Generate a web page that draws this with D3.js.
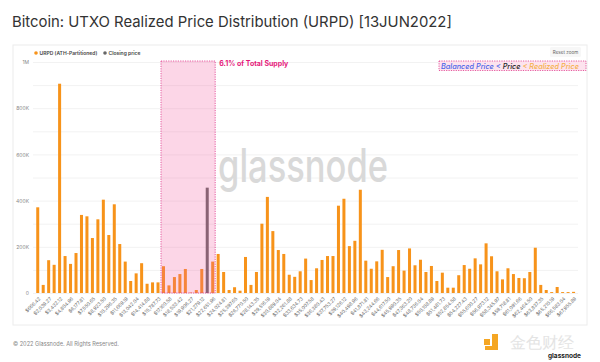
<!DOCTYPE html>
<html>
<head>
<meta charset="utf-8">
<script src="https://cdn.jsdelivr.net/npm/d3@7"></script>
<style>
  body { margin: 0; background: #fff; }
  text { font-family: Inter, "Liberation Sans", sans-serif; }
</style>
</head>
<body>
<div id="chart"></div>
<script>
// URPD values per price bucket (BTC)
var urpd = [371000, 35000, 142000, 122000, 906000, 160000, 126000, 173000, 338000, 332000,
    238000, 319000, 404000, 251000, 384000, 212000, 136000, 52000, 85000, 129000,
    40000, 46000, 46000, 116000, 33000, 69000, 82000, 104000, 2000, 13000,
    104000, 456000, 136000, 169000, 91000, 13000, 25000, 10000, 156000, 35000,
    91000, 300000, 416000, 268000, 186000, 169000, 79000, 70000, 94000, 149000,
    56000, 107000, 143000, 160000, 160000, 378000, 408000, 203000, 226000, 447000,
    140000, 105000, 137000, 187000, 69000, 116000, 186000, 97000, 193000, 120000,
    144000, 91000, 117000, 52000, 88000, 23000, 23000, 77000, 121000, 105000,
    150000, 124000, 215000, 159000, 94000, 59000, 107000, 82000, 65000, 64000,
    91000, 196000, 35000, 13000, 4000, 26000, 4000, 4000, 5000];

// bucket that holds the closing price
var closingIndex = 31;
// buckets in the highlighted band
var bandStart = 23, bandEnd = 32;

// every other bucket gets a label
var tickLabels = ["$666.42", "$2,039.27", "$3,432.12", "$4,804.96", "$6,177.81", "$7,550.65",
    "$8,923.50", "$10,296.35", "$11,669.19", "$13,042.04", "$14,414.88", "$15,787.73",
    "$17,160.58", "$18,533.42", "$19,906.27", "$21,279.12", "$22,651.96", "$24,024.81",
    "$25,397.65", "$26,770.50", "$28,143.35", "$29,516.19", "$30,889.04", "$32,261.88",
    "$33,634.73", "$35,007.58", "$36,380.43", "$37,753.27", "$39,126.12", "$40,498.96",
    "$41,871.81", "$43,244.66", "$44,617.50", "$45,990.35", "$47,363.20", "$48,736.04",
    "$50,108.89", "$51,481.73", "$52,854.58", "$54,227.43", "$55,600.27", "$56,973.12",
    "$58,345.97", "$59,718.81", "$61,091.66", "$62,464.50", "$63,837.35", "$65,210.19",
    "$66,583.04", "$67,955.89"];

var yTicks = [0, 200000, 400000, 600000, 800000, 1000000];

var W = 600, H = 362;

var svg = d3.select("#chart")
    .append("svg")
    .attr("width", W)
    .attr("height", H);

svg.append("rect").attr("width", W).attr("height", H).attr("fill", "#fff");

// title, sized to span the same width as the original
var title = svg.append("text")
    .attr("x", 12).attr("y", 27)
    .attr("font-size", 16.5)
    .attr("font-family", "Roboto, sans-serif")
    .attr("fill", "#333")
    .text("Bitcoin: UTXO Realized Price Distribution (URPD) [13JUN2022]");
var tw = title.node().getComputedTextLength();
title.attr("font-size", 16.5 * 440 / tw);

// panel
svg.append("rect")
    .attr("x", 13).attr("y", 45)
    .attr("width", 574).attr("height", 280)
    .attr("fill", "#fff")
    .attr("stroke", "#ececec");

// legend
var legend = [{name: "URPD (ATH-Partitioned)", color: "#f7931a", x: 36},
              {name: "Closing price", color: "#666", x: 105}];
legend.forEach(function(d) {
    svg.append("circle").attr("cx", d.x).attr("cy", 53).attr("r", 1.8).attr("fill", d.color);
    svg.append("text").attr("x", d.x + 3.5).attr("y", 55)
        .attr("font-size", 5).attr("font-weight", 600).attr("fill", "#444")
        .text(d.name);
});

// reset zoom button
svg.append("rect").attr("x", 550).attr("y", 47).attr("width", 31).attr("height", 10)
    .attr("fill", "#f7f7f7").attr("rx", 1.5);
svg.append("text").attr("x", 565.5).attr("y", 53.8).attr("text-anchor", "middle")
    .attr("font-size", 4.6).attr("fill", "#666").text("Reset zoom");

var x = d3.scaleBand()
    .domain(d3.range(urpd.length))
    .range([35, 576.3])
    .paddingInner(0.45)
    .paddingOuter(0.225);

var y = d3.scaleLinear()
    .domain([0, 1000000])
    .range([293, 62]);

// grid every 100K
svg.append("g")
    .attr("transform", "translate(33,0)")
    .call(d3.axisLeft(y).ticks(10).tickSize(-545).tickFormat(""))
    .call(function(g) {
        g.select(".domain").remove();
        g.selectAll("line").attr("stroke", "#f2f2f2");
    });

// y labels
svg.append("g")
    .attr("transform", "translate(32,0)")
    .call(d3.axisLeft(y).tickValues(yTicks).tickSize(0)
        .tickFormat(function(d) { return d === 0 ? "0" : d >= 1e6 ? (d / 1e6) + "M" : (d / 1e3) + "K"; }))
    .call(function(g) {
        g.select(".domain").remove();
        g.selectAll("text").attr("font-size", 5).attr("fill", "#888")
            .attr("font-family", "Inter, sans-serif");
    });

// watermark
svg.append("text")
    .attr("x", 218).attr("y", 182)
    .attr("font-size", 46)
    .attr("font-weight", 500)
    .attr("fill", "#d9d9d9")
    .attr("textLength", 170)
    .attr("lengthAdjust", "spacingAndGlyphs")
    .text("glassnode");

// bars
svg.selectAll(".bar")
    .data(urpd)
    .enter()
    .append("rect")
    .attr("class", "bar")
    .attr("x", function(d, i) { return x(i); })
    .attr("width", x.bandwidth())
    .attr("y", function(d) { return y(d); })
    .attr("height", function(d) { return y(0) - y(d); })
    .attr("fill", function(d, i) { return i === closingIndex ? "#666" : "#f7931a"; });

// highlighted band
var bx0 = x(bandStart) - 1, bx1 = x(bandEnd) + x.bandwidth() + 1;
svg.append("rect")
    .attr("x", bx0).attr("y", y(1000000) - 1)
    .attr("width", bx1 - bx0).attr("height", y(0) - y(1000000) + 1)
    .attr("fill", "rgba(245, 90, 160, 0.25)")
    .attr("stroke", "#e0358a")
    .attr("stroke-width", 0.8)
    .attr("stroke-dasharray", "1.2,1.2");

svg.append("text")
    .attr("x", bx1 + 4).attr("y", 65.5)
    .attr("font-size", 7).attr("font-weight", 700)
    .attr("fill", "#e5177a")
    .text("6.1% of Total Supply");

// price relation box
svg.append("rect")
    .attr("x", 439).attr("y", 61).attr("width", 147).attr("height", 9.5)
    .attr("fill", "#fde3ee")
    .attr("stroke", "#e0358a").attr("stroke-width", 0.8)
    .attr("stroke-dasharray", "1.2,1.2");
var rel = svg.append("text")
    .attr("x", 441).attr("y", 68.5)
    .attr("font-size", 7.3).attr("font-style", "italic").attr("font-weight", 500);
rel.append("tspan").attr("fill", "#4a63e8").text("Balanced Price < ");
rel.append("tspan").attr("fill", "#222").text("Price");
rel.append("tspan").attr("fill", "#f5b04a").text(" < Realized Price");

// x axis labels
svg.append("g")
    .attr("transform", "translate(0,296)")
    .call(d3.axisBottom(x)
        .tickValues(d3.range(0, urpd.length, 2))
        .tickSize(0)
        .tickFormat(function(i) { return tickLabels[i / 2]; }))
    .call(function(g) {
        g.select(".domain").remove();
        g.selectAll("text")
            .attr("font-size", 4.8)
            .attr("fill", "#707070")
            .attr("font-family", "Inter, sans-serif")
            .attr("text-anchor", "end")
            .attr("dy", "0.3em")
            .attr("transform", "rotate(-45)");
    });

// footer
svg.append("text")
    .attr("x", 13).attr("y", 346)
    .attr("font-size", 5.6).attr("fill", "#888")
    .text("\u00a9 2022 Glassnode. All Rights Reserved.");

// corner logo
svg.append("rect").attr("x", 484).attr("y", 339).attr("width", 6).attr("height", 6).attr("fill", "#f5a623");
svg.append("path").attr("d", "M492,334h6v16h-13v-4h7z").attr("fill", "#f5a623");
svg.append("text").attr("x", 510).attr("y", 348)
    .attr("font-size", 16).attr("fill", "#e4e4e4")
    .attr("font-family", "Noto Sans CJK SC")
    .text("金色财经");
svg.append("text").attr("x", 548).attr("y", 358)
    .attr("font-size", 6.5).attr("font-weight", 700).attr("fill", "#222")
    .text("glassnode");
</script>
</body>
</html>
